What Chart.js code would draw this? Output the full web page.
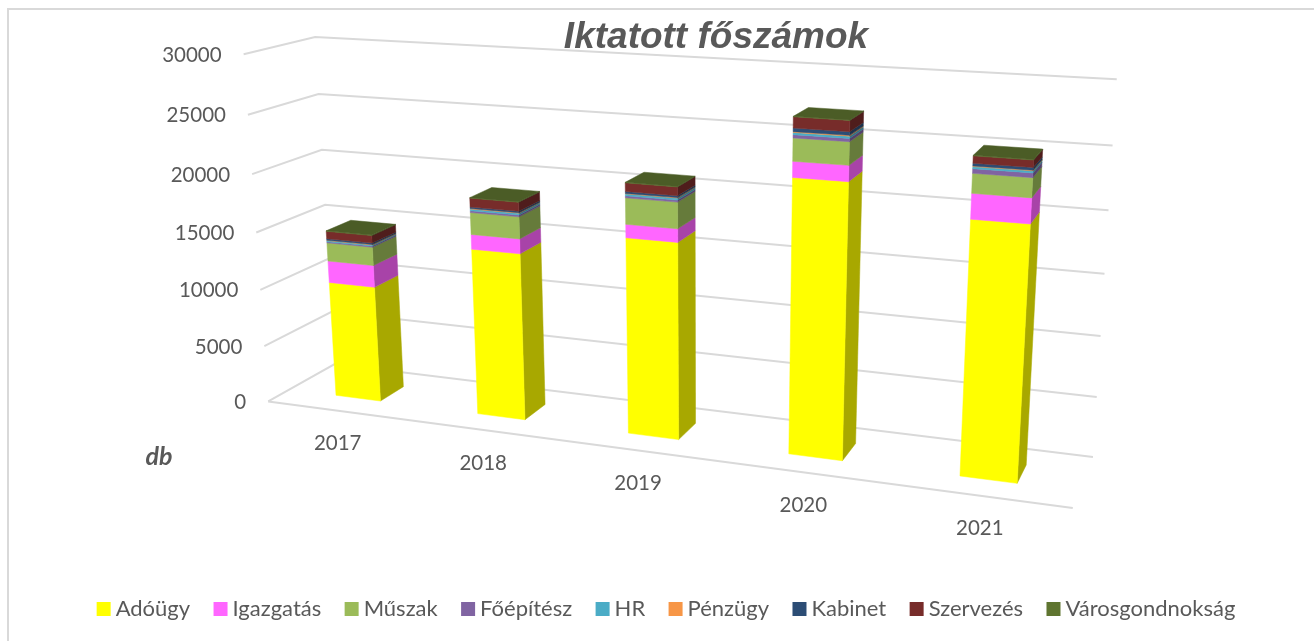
<!DOCTYPE html>
<html lang="hu">
<head>
    <meta charset="UTF-8">
    <title>Iktatott főszámok</title>
    <script src="https://cdn.jsdelivr.net/npm/chart.js"></script>
    <style>
        body { margin: 0; background: #fff; }
        canvas { display: block; }
    </style>
</head>
<body>
    <canvas id="chart" width="1314" height="641"></canvas>

    <script>
        const years = ['2017', '2018', '2019', '2020', '2021'];
        const adougy = [10200, 14350, 16500, 22400, 20270];
        const igazgatas = [1900, 1250, 1100, 1250, 1950];
        const muszak = [1600, 1850, 2150, 1800, 1500];
        const foepitesz = [100, 150, 160, 250, 350];
        const hr = [100, 150, 160, 170, 150];
        const penzugy = [30, 40, 40, 60, 50];
        const kabinet = [130, 120, 150, 280, 200];
        const szervezes = [650, 750, 700, 850, 550];
        const varosgondnoksag = [40, 40, 40, 40, 40];

        const textColor = '#595959';
        const gridColor = '#d9d9d9';
        const labelFont = '20.5px Lato';

        // where the 3D box sits on the page: u, v, w (0..1) -> x, y
        const boxAnchors = [
            [0, 0, 0, 267, 402], [0, 0.5, 0, 256, 233], [0, 1, 0, 245, 54],
            [0, 0, 1, 336, 363], [0, 0.5, 1, 325, 205], [0, 1, 1, 314, 37],
            [1, 0, 1, 1093, 458], [1, 0.5, 1, 1104, 274], [1, 1, 1, 1117, 79],
            [1, 0, 0, 1073, 507]
        ];
        const barDepth = [0.31, 0.68];

        // least squares fit of a perspective projection through the anchors
        function fitProjection(anchors) {
            const rows = [], rhs = [];
            anchors.forEach(([u, v, w, x, y]) => {
                const X = x / 1000, Y = y / 1000;
                rows.push([1, u, v, w, 0, 0, 0, 0, -X * u, -X * v, -X * w]); rhs.push(X);
                rows.push([0, 0, 0, 0, 1, u, v, w, -Y * u, -Y * v, -Y * w]); rhs.push(Y);
            });
            const n = 11;
            const m = [];
            for (let i = 0; i < n; i++) {
                m.push(new Array(n + 1).fill(0));
                rows.forEach((r, k) => {
                    for (let j = 0; j < n; j++) m[i][j] += r[i] * r[j];
                    m[i][n] += r[i] * rhs[k];
                });
            }
            for (let i = 0; i < n; i++) {
                let p = i;
                for (let k = i + 1; k < n; k++) if (Math.abs(m[k][i]) > Math.abs(m[p][i])) p = k;
                [m[i], m[p]] = [m[p], m[i]];
                for (let k = 0; k < n; k++) {
                    if (k === i) continue;
                    const f = m[k][i] / m[i][i];
                    for (let j = i; j <= n; j++) m[k][j] -= f * m[i][j];
                }
            }
            return m.map((r, i) => r[n] / r[i]);
        }

        const P = fitProjection(boxAnchors);
        function project(u, v, w) {
            const d = 1 + P[8] * u + P[9] * v + P[10] * w;
            return [
                1000 * (P[0] + P[1] * u + P[2] * v + P[3] * w) / d,
                1000 * (P[4] + P[5] * u + P[6] * v + P[7] * w) / d
            ];
        }

        function shade(hex, f) {
            const n = parseInt(hex.slice(1), 16);
            const c = [n >> 16, (n >> 8) & 255, n & 255].map(v => Math.round(v * f));
            return `rgb(${c.join(',')})`;
        }

        function face(ctx, pts, color) {
            ctx.beginPath();
            pts.forEach((p, i) => i ? ctx.lineTo(p[0], p[1]) : ctx.moveTo(p[0], p[1]));
            ctx.closePath();
            ctx.fillStyle = color;
            ctx.strokeStyle = color;
            ctx.lineWidth = 0.5;
            ctx.fill();
            ctx.stroke();
        }

        function polyline(ctx, pts) {
            ctx.beginPath();
            pts.forEach((p, i) => i ? ctx.lineTo(p[0], p[1]) : ctx.moveTo(p[0], p[1]));
            ctx.stroke();
        }

        // Chart.js has no 3D bars, so its flat layout is projected onto the box
        const box3d = {
            id: 'box3d',
            beforeDraw(chart) {
                const ctx = chart.ctx;
                ctx.save();
                ctx.strokeStyle = gridColor;
                ctx.lineWidth = 2;
                polyline(ctx, [[8, 641], [8, 9], [1314, 9]]);
                ctx.restore();
            },
            afterLayout(chart) {
                // title sits over the plot, right of the legend centre
                chart.titleBlock.left += 47;
                chart.titleBlock.right += 47;
            },
            beforeDatasetsDraw(chart) {
                const ctx = chart.ctx, area = chart.chartArea;
                const xs = chart.scales.x, ys = chart.scales.y;
                const toU = px => (px - area.left) / area.width;
                const toV = py => (area.bottom - py) / area.height;

                ctx.save();
                // walls and floor
                ctx.strokeStyle = gridColor;
                ctx.lineWidth = 2;
                ys.ticks.forEach(t => {
                    const v = toV(ys.getPixelForValue(t.value));
                    polyline(ctx, [project(0, v, 0), project(0, v, 1), project(1, v, 1)]);
                });
                polyline(ctx, [project(0, 0, 0), project(1, 0, 0)]);

                // axis labels
                ctx.font = labelFont;
                ctx.fillStyle = textColor;
                ctx.textBaseline = 'middle';
                ctx.textAlign = 'right';
                ys.ticks.forEach(t => {
                    const p = project(0, toV(ys.getPixelForValue(t.value)), 0);
                    ctx.fillText(String(t.value), p[0] - 22, p[1] + 1);
                });
                ctx.textAlign = 'center';
                years.forEach((label, i) => {
                    const p = project(toU(xs.getPixelForValue(i)), 0, 0);
                    ctx.fillText(label, p[0], p[1] + 33);
                });
                ctx.font = 'italic bold 25px Lato';
                ctx.fillText(ys.options.title.text, 159, 457);

                // bars, left to right and bottom up
                const last = chart.data.datasets.length - 1;
                years.forEach((year, i) => {
                    chart.data.datasets.forEach((ds, d) => {
                        const bar = chart.getDatasetMeta(d).data[i];
                        const u0 = toU(bar.x - bar.width / 2), u1 = toU(bar.x + bar.width / 2);
                        const v0 = toV(bar.base), v1 = toV(bar.y);
                        const [w0, w1] = barDepth;
                        face(ctx, [project(u1, v0, w0), project(u1, v0, w1), project(u1, v1, w1), project(u1, v1, w0)], shade(ds.backgroundColor, 0.66));
                        face(ctx, [project(u0, v0, w0), project(u1, v0, w0), project(u1, v1, w0), project(u0, v1, w0)], ds.backgroundColor);
                        if (d === last) {
                            face(ctx, [project(u0, v1, w0), project(u1, v1, w0), project(u1, v1, w1), project(u0, v1, w1)], shade(ds.backgroundColor, 0.79));
                        }
                    });
                });
                ctx.restore();
                return false;
            }
        };

        const series = [
            ['Adóügy', adougy, '#ffff00'],
            ['Igazgatás', igazgatas, '#ff66ff'],
            ['Műszak', muszak, '#9bbb59'],
            ['Főépítész', foepitesz, '#8064a2'],
            ['HR', hr, '#4bacc6'],
            ['Pénzügy', penzugy, '#f79646'],
            ['Kabinet', kabinet, '#2c4d75'],
            ['Szervezés', szervezes, '#772c2a'],
            ['Városgondnokság', varosgondnoksag, '#5f7530']
        ];

        new Chart(document.getElementById('chart'), {
            type: 'bar',
            data: {
                labels: years,
                datasets: series.map(([label, data, color]) => ({
                    label, data, backgroundColor: color, borderWidth: 0,
                    categoryPercentage: 1, barPercentage: 0.32
                }))
            },
            options: {
                responsive: false,
                animation: false,
                layout: { padding: { bottom: 11, left: 24 } },
                scales: {
                    x: { stacked: true, display: false },
                    y: {
                        stacked: true, display: false, min: 0, max: 30000,
                        ticks: { stepSize: 5000 },
                        title: { text: 'db' }
                    }
                },
                plugins: {
                    tooltip: { enabled: false },
                    title: {
                        display: true,
                        text: 'Iktatott főszámok',
                        color: textColor,
                        font: { family: 'Liberation Sans', size: 37, style: 'italic', weight: 'bold' },
                        padding: { top: 16, bottom: 10 }
                    },
                    legend: {
                        position: 'bottom',
                        labels: {
                            color: textColor,
                            font: { family: 'Lato', size: 22 },
                            usePointStyle: true,
                            pointStyle: 'rect',
                            boxWidth: 2,
                            boxHeight: 14,
                            padding: 29.4
                        }
                    }
                }
            },
            plugins: [box3d]
        });
    </script>
</body>
</html>
